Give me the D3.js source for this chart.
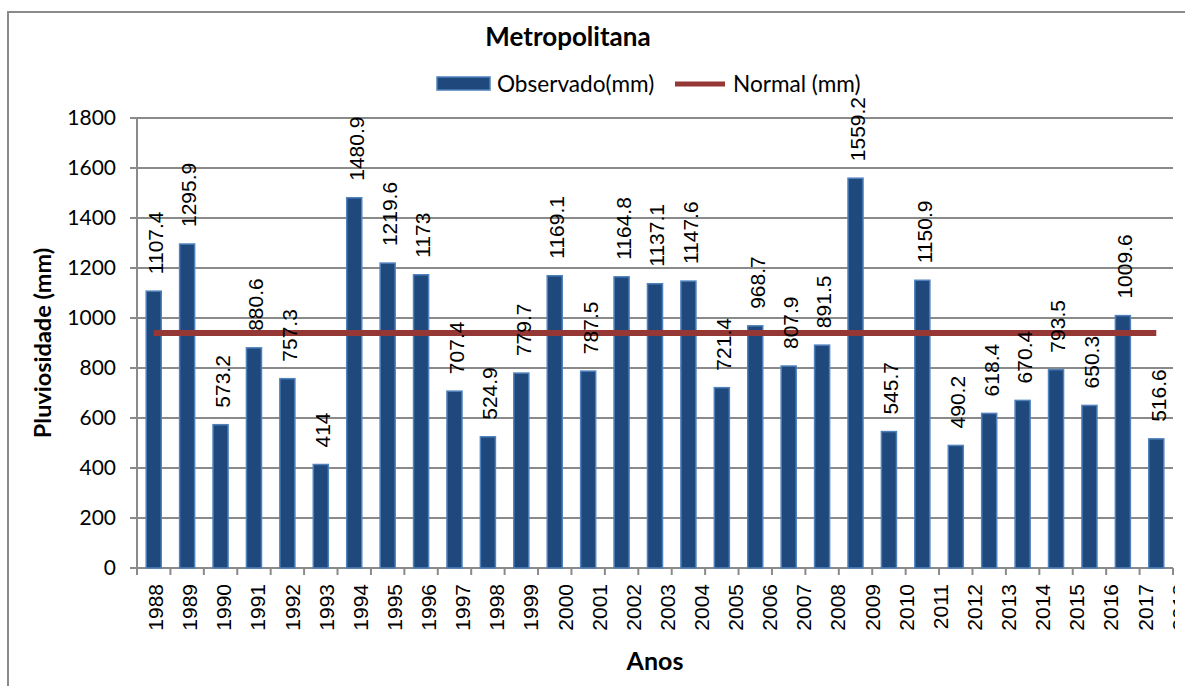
<!DOCTYPE html>
<html>
<head>
<meta charset="utf-8">
<script src="https://cdn.jsdelivr.net/npm/d3@7"></script>
<style>
  html, body { margin: 0; padding: 0; background: #fff; }
  svg { display: block; }
</style>
</head>
<body>
<svg id="chart" width="1185" height="686"></svg>
<script>
// Annual rainfall, Metropolitana region
const years = d3.range(1988, 2019).map(String);
const observed = [
  1107.4, 1295.9, 573.2, 880.6, 757.3, 414, 1480.9, 1219.6, 1173, 707.4,
  524.9, 779.7, 1169.1, 787.5, 1164.8, 1137.1, 1147.6, 721.4, 968.7, 807.9,
  891.5, 1559.2, 545.7, 1150.9, 490.2, 618.4, 670.4, 793.5, 650.3, 1009.6, 516.6
];
const normal = 940;
const yTicks = [0, 200, 400, 600, 800, 1000, 1200, 1400, 1600, 1800];

const BAR_FILL = "#1F497D", BAR_EDGE = "#4F81BD", LINE = "#953735", GRID = "#8a8a8a";
const SANS = "'Liberation Sans', Arial, sans-serif";
const CAL = "Lato, 'Open Sans', sans-serif";

const svg = d3.select("#chart");
const plot = { left: 137, right: 1173, top: 118, bottom: 568 };

const x = d3.scaleBand().domain(years)
  .range([plot.left, plot.right]).paddingInner(0.55).paddingOuter(0.275);
const y = d3.scaleLinear().domain([0, 1800]).range([plot.bottom, plot.top]);

// Category labels run on a slightly wider pitch than the bars
const labelStep = x.step() * 1.021;
const firstCenter = x(years[0]) + x.bandwidth() / 2 + 2;
const xLab = d3.scalePoint().domain(years)
  .range([firstCenter, firstCenter + labelStep * (years.length - 1)]);

// outer frame
svg.append("rect").attr("x", 8).attr("y", 12).attr("width", 1300).attr("height", 800)
  .attr("fill", "none").attr("stroke", GRID).attr("stroke-width", 2);

// horizontal gridlines with small left ticks
svg.append("g").selectAll("line").data(yTicks).join("line")
  .attr("x1", plot.left - 7).attr("x2", plot.right)
  .attr("y1", d => y(d)).attr("y2", d => y(d))
  .attr("stroke", GRID).attr("stroke-width", 2);

// y axis line
svg.append("line").attr("x1", plot.left).attr("x2", plot.left)
  .attr("y1", plot.top).attr("y2", plot.bottom)
  .attr("stroke", GRID).attr("stroke-width", 2);

// x tick marks at category boundaries
const bounds = years.map(d => x(d) + x.bandwidth() / 2 - x.step() / 2);
bounds.push(plot.right);
svg.append("g").selectAll("line").data(bounds).join("line")
  .attr("x1", d => d).attr("x2", d => d)
  .attr("y1", plot.bottom).attr("y2", plot.bottom + 7)
  .attr("stroke", GRID).attr("stroke-width", 2);

// y tick labels
svg.append("g").selectAll("text").data(yTicks).join("text")
  .attr("x", 116).attr("y", d => y(d)).attr("dy", "0.35em")
  .attr("text-anchor", "end").attr("font-family", CAL).attr("font-size", 21)
  .text(d => d);

// bars
svg.append("g").selectAll("rect").data(observed).join("rect")
  .attr("x", (d, i) => x(years[i])).attr("width", x.bandwidth())
  .attr("y", d => y(d)).attr("height", d => y(0) - y(d))
  .attr("fill", BAR_FILL).attr("stroke", BAR_EDGE).attr("stroke-width", 1.5);

// normal line
svg.append("line")
  .attr("x1", x(years[0]) + x.bandwidth() / 2)
  .attr("x2", x(years[years.length - 1]) + x.bandwidth() / 2)
  .attr("y1", y(normal)).attr("y2", y(normal))
  .attr("stroke", LINE).attr("stroke-width", 6);

// value labels
svg.append("g").selectAll("text").data(observed).join("text")
  .attr("transform", (d, i) => `translate(${x(years[i]) + x.bandwidth() / 2 + 2},${y(d) - 17}) rotate(-90)`)
  .attr("dy", "0.35em").attr("font-family", SANS).attr("font-size", 21)
  .text(d => d);

// year labels, clipped at the chart edge
svg.append("clipPath").attr("id", "edge").append("rect")
  .attr("x", 0).attr("y", 0).attr("width", 1175).attr("height", 686);
svg.append("g").attr("clip-path", "url(#edge)").selectAll("text").data(years).join("text")
  .attr("transform", d => `translate(${xLab(d)},${plot.bottom + 16}) rotate(-90)`)
  .attr("dy", "0.35em").attr("text-anchor", "end")
  .attr("font-family", SANS).attr("font-size", 21)
  .text(d => d);

// title
svg.append("text").attr("x", 568).attr("y", 46).attr("text-anchor", "middle")
  .attr("font-family", CAL).attr("font-weight", "bold").attr("font-size", 26)
  .text("Metropolitana");

// legend
svg.append("rect").attr("x", 437).attr("y", 77).attr("width", 53).attr("height", 13)
  .attr("fill", BAR_FILL).attr("stroke", BAR_EDGE).attr("stroke-width", 1.5);
svg.append("text").attr("x", 497).attr("y", 92).attr("font-family", CAL).attr("font-size", 22.6)
  .text("Observado(mm)");
svg.append("line").attr("x1", 675).attr("x2", 725).attr("y1", 84).attr("y2", 84)
  .attr("stroke", LINE).attr("stroke-width", 5);
svg.append("text").attr("x", 733).attr("y", 92).attr("font-family", CAL).attr("font-size", 22.6)
  .text("Normal (mm)");

// axis titles
svg.append("text").attr("x", (plot.left + plot.right) / 2).attr("y", 670)
  .attr("text-anchor", "middle").attr("font-family", CAL).attr("font-weight", "bold").attr("font-size", 25)
  .text("Anos");
svg.append("text").attr("transform", `translate(51,${(plot.top + plot.bottom) / 2}) rotate(-90)`)
  .attr("text-anchor", "middle").attr("font-family", CAL).attr("font-weight", "bold").attr("font-size", 23.5)
  .text("Pluviosidade (mm)");
</script>
</body>
</html>
